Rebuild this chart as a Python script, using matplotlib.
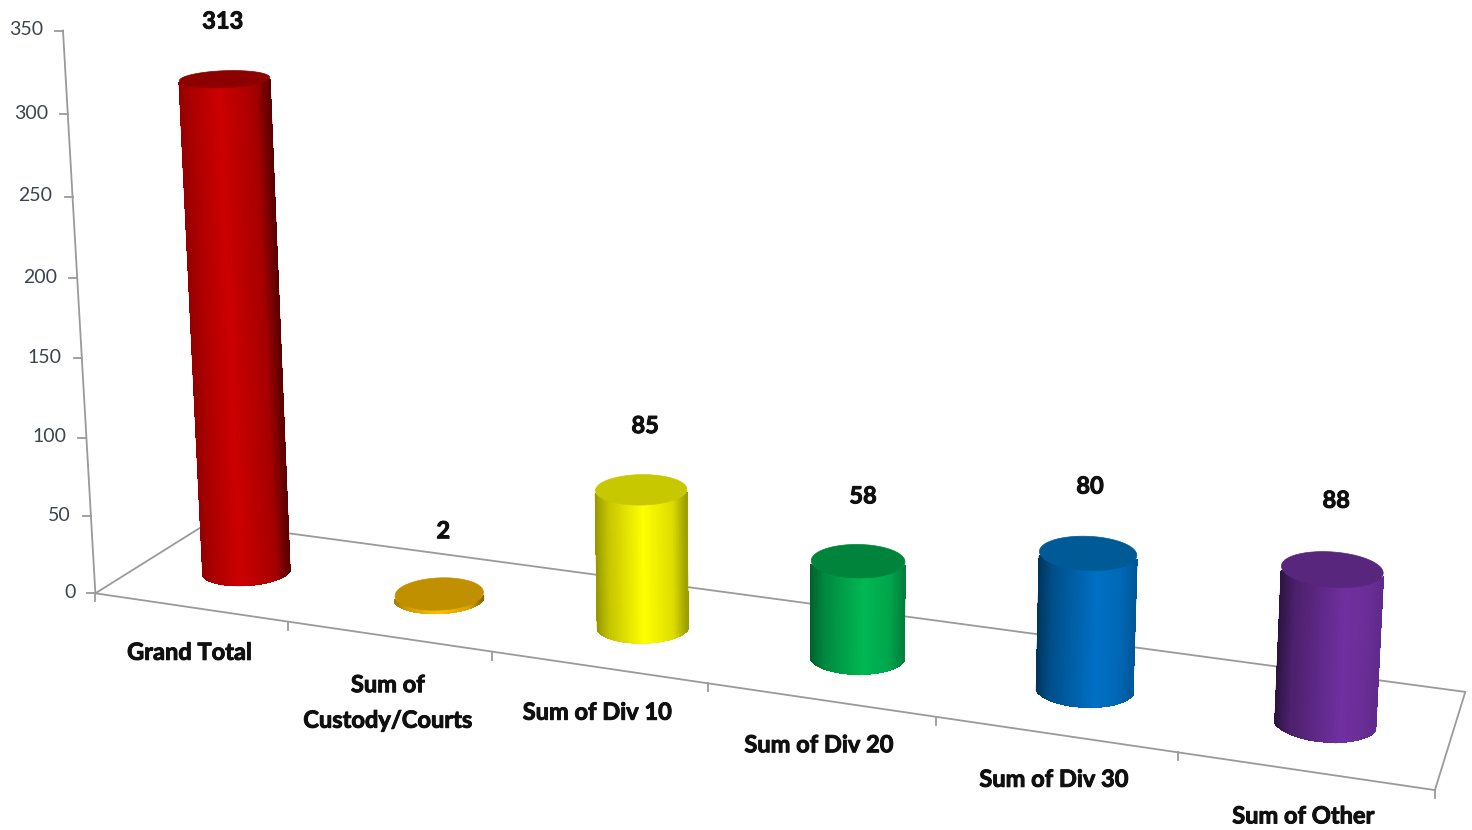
import numpy as np
import matplotlib
matplotlib.use("Agg")
import matplotlib.pyplot as plt
import matplotlib.patheffects as pe
from matplotlib.collections import PolyCollection, LineCollection
from matplotlib.colors import to_rgb

categories = ["Grand Total", "Sum of\nCustody/Courts", "Sum of Div 10", "Sum of Div 20", "Sum of Div 30", "Sum of Other"]
values = [313, 2, 85, 58, 80, 88]
y_ticks = [0, 50, 100, 150, 200, 250, 300, 350]

body_colors = ["#cc0000", "#ffc000", "#ffff00", "#00b854", "#0070c4", "#7030a0"]
top_colors = ["#8c0000", "#c09000", "#c8c800", "#00843c", "#005a96", "#58267d"]

# small nudges for the value labels, in pixels
label_dx = [-2, 4, 4, 5, 2, 4]
label_dy = [-58, -63, -64, -65, -67, -69]

LINE = "#9a9a9a"
W, H = 1472, 830

# camera fit: (category, depth, value) -> pixel
anchors = [
    (0, 0, 0, 97, 592), (6, 0, 0, 1433, 795), (0, 1, 0, 205, 527), (6, 1, 0, 1465, 688),
    (0, 0, 350, 62, 28), (0, 0, 150, 81, 357),
    (1, 0, 0, 289, 622), (2, 0, 0, 491, 652), (3, 0, 0, 707, 686), (4, 0, 0, 935, 716), (5, 0, 0, 1177, 752),
    (0.5, 0.5, 0, 249, 565), (5.5, 0.5, 0, 1328, 722), (2.5, 0.5, 0, 644, 625),
    (0.5, 0.5, 313, 226, 83), (5.5, 0.5, 88, 1332, 568), (2.5, 0.5, 85, 642, 490),
    (3.5, 0.5, 58, 858, 561), (4.5, 0.5, 80, 1088, 552),
]


def fit_camera(pts):
    rows = []
    for c, d, v, px, py in pts:
        X = [c, d, v / 100, 1]
        px, py = px / 1000, py / 1000
        rows.append(X + [0, 0, 0, 0] + [-px * a for a in X])
        rows.append([0, 0, 0, 0] + X + [-py * a for a in X])
    _, _, vt = np.linalg.svd(np.array(rows))
    return vt[-1].reshape(3, 4)


CAM = fit_camera(anchors)


def project(c, d, v):
    c, d, v = np.broadcast_arrays(np.asarray(c, float), np.asarray(d, float), np.asarray(v, float))
    X = np.stack([c, d, v / 100, np.ones_like(c)])
    p = CAM @ X.reshape(4, -1)
    return (p[0] / p[2] * 1000).reshape(c.shape), (p[1] / p[2] * 1000).reshape(c.shape)


def shade(color, f):
    return tuple(min(1, a * f) for a in to_rgb(color))


def front_arc(x, y, s):
    # lower edge of the ellipse (bigger pixel y), sampled at relative widths s
    order = np.argsort(x)
    xs, ys = x[order], y[order]
    grid = xs[0] + s * (xs[-1] - xs[0])
    low = np.array([ys[np.abs(xs - g) <= (xs[-1] - xs[0]) / 60].max() for g in grid])
    return grid, low


def draw_cylinder(ax, i, value, body, top):
    theta = np.linspace(0, 2 * np.pi, 721)
    c = i + 0.5 + 0.2 * np.cos(theta)
    d = 0.5 + 0.2 * np.sin(theta)
    bx, by = project(c, d, 0)
    tx, ty = project(c, d, value)

    s = np.linspace(0, 1, 121)
    bgx, bgy = front_arc(bx, by, s)
    tgx, tgy = front_arc(tx, ty, s)

    # light moves across the row: left bars go dark on the right, right bars on the left
    t = i / 5
    left_f = 0.72 - 0.32 * t
    right_f = 0.45 + 0.42 * t
    peak = 0.45 + 0.2 * t
    f = np.interp(s, [0, 0.15, peak, 0.85, 1],
                  [left_f, left_f + 0.45 * (1 - left_f), 1.0, right_f + 0.65 * (1 - right_f), right_f])

    quads, cols = [], []
    for k in range(len(s) - 1):
        quads.append([(bgx[k], bgy[k]), (bgx[k + 1], bgy[k + 1]), (tgx[k + 1], tgy[k + 1]), (tgx[k], tgy[k])])
        cols.append(shade(body, (f[k] + f[k + 1]) / 2))
    # strips without antialiasing so no seams show, then a smooth rim on top of them
    ax.add_collection(PolyCollection(quads, facecolors=cols, edgecolors=cols, linewidths=0.6,
                                     antialiaseds=False, zorder=3 + i))
    rim = [[(bgx[k], bgy[k]), (bgx[k + 1], bgy[k + 1])] for k in range(len(s) - 1)]
    rim.append([(bgx[0], bgy[0]), (tgx[0], tgy[0])])
    rim.append([(bgx[-1], bgy[-1]), (tgx[-1], tgy[-1])])
    rim_cols = cols + [cols[0], cols[-1]]
    ax.add_collection(LineCollection(rim, colors=rim_cols, linewidths=1.0, zorder=3 + i))
    ax.fill(tx, ty, color=top, lw=0.5, zorder=3 + i)


fig = plt.figure(figsize=(W / 100, H / 100), dpi=100)
ax = fig.add_axes([0, 0, 1, 1])
ax.set_xlim(0, W)
ax.set_ylim(H, 0)
ax.axis("off")

heavy = [pe.withStroke(linewidth=0.7, foreground="#101010")]

n = len(categories)
# floor outline and value axis
corners = np.array([[0, 0], [n, 0], [n, 1], [0, 1], [0, 0]])
fx, fy = project(corners[:, 0], corners[:, 1], 0)
ax.plot(fx, fy, color=LINE, lw=1.3, zorder=1)
ax_x, ax_y = project(0, 0, np.array([0, y_ticks[-1]]))
ax.plot(ax_x, ax_y, color=LINE, lw=1.3, zorder=1)

for t in y_ticks:
    tx, ty = project(0, 0, t)
    ax.plot([tx - 8, tx], [ty, ty], color=LINE, lw=1.3, zorder=1)
    ax.text(tx - 20, ty - 1, str(t), ha="right", va="center", fontsize=14, family="Lato", color="#3c4450")

for i in range(n + 1):
    tx, ty = project(i, 0, 0)
    ax.plot([tx, tx], [ty, ty + 8], color=LINE, lw=1.3, zorder=1)

for i, (name, val) in enumerate(zip(categories, values)):
    draw_cylinder(ax, i, val, body_colors[i], top_colors[i])

    lx, ly = project(i + 0.5, 0.5, val)
    ax.text(lx + label_dx[i], ly + label_dy[i], str(val), ha="center", va="center", fontsize=17, family="Lato",
            fontweight="bold", color="#101010", zorder=20, path_effects=heavy)

    cx, cy = project(i + 0.5, 0, 0)
    off = 66 if "\n" in name else 45
    ax.text(cx - 1, cy + off, name, ha="center", va="center", fontsize=17, family="Lato",
            fontweight="bold", color="#101010", linespacing=1.66, zorder=20, path_effects=heavy)

fig.savefig("out.png", dpi=100, facecolor="white")
